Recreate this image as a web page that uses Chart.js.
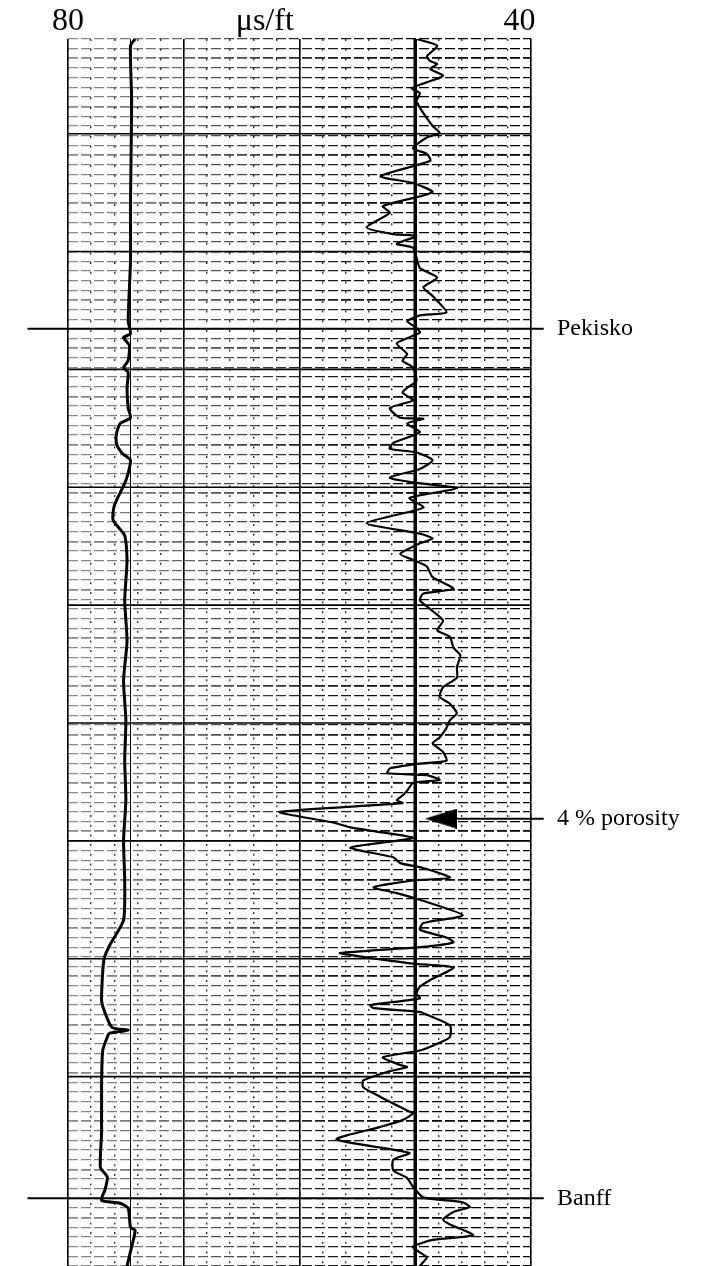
<!DOCTYPE html>
<html>
<head>
<meta charset="utf-8">
<script src="https://cdn.jsdelivr.net/npm/chart.js@4.4.1/dist/chart.umd.min.js"></script>
<style>
  html, body { margin: 0; padding: 0; background: #fff; }
</style>
</head>
<body>
<canvas id="sonicLog" width="726" height="1266"></canvas>
<script>
// Sonic log, depth in chart grid units (0 = top of track), transit time in µs/ft

const sonicDepth = [0, 0.7, 1.8, 2.3, 2.6, 3.1, 3.8, 4.6, 5.1, 5.6,
    6.4, 7.1, 8.2, 9.0, 9.7, 10.2, 11.3, 11.9, 12.6, 14.2,
    14.9, 15.8, 16.2, 17.3, 18.0, 19.5, 20.2, 20.4, 21.2, 21.6,
    22.6, 23.7, 24.7, 25.7, 26.6, 28.3, 28.6, 29.2, 29.9, 30.4,
    31.5, 32.6, 33.3, 34.0, 35.4, 36.1, 36.6, 37.4, 38.2, 39.2,
    39.3, 39.8, 40.7, 41.8, 42.4, 42.8, 43.6, 44.5, 45.4, 45.9,
    46.5, 47.5, 48.5, 50.1, 51.2, 51.7, 52.2, 53.3, 54.0, 54.6,
    55.7, 56.9, 57.4, 58.1, 59.2, 60.2, 61.2, 61.9, 63.0, 63.8,
    65.0, 66.1, 67.1, 68.1, 68.8, 69.8, 70.5, 71.3, 72.3, 72.9,
    73.8, 74.7, 75.0, 75.5, 76.0, 76.2, 76.7, 77.0, 77.8, 78.3,
    78.8, 79.1, 80.0, 80.9, 81.1, 81.6, 82.1, 82.7, 83.7, 84.7,
    85.3, 85.8, 86.8, 87.1, 87.8, 88.4, 89.1, 90.7, 91.5, 92.2,
    93.0, 93.5, 94.0, 94.6, 95.0, 95.7, 96.1, 97.4, 98.1, 98.8,
    99.3, 100.0, 100.3, 100.7, 101.0, 102.1, 103.3, 103.9, 104.7, 105.4,
    106.2, 106.4, 106.9, 107.8, 108.5, 109.5, 110.9, 111.2, 111.9, 112.6,
    113.9, 115.3, 116.0, 117.1, 117.9, 118.8, 119.9, 120.4, 120.9, 121.4,
    122.2, 122.7, 123.8, 124.3, 125.0, 125.6, 126.1, 127.0];

const sonicDt = [49.9, 48.1, 49.0, 48.7, 48.1, 48.7, 47.6, 49.3, 50.3, 49.6,
    49.9, 49.6, 49.0, 48.5, 47.9, 49.0, 50.2, 49.0, 48.7, 53.0,
    50.2, 48.5, 49.3, 52.8, 52.2, 54.2, 51.9, 49.9, 51.6, 50.2,
    49.9, 49.6, 48.1, 49.3, 48.5, 47.3, 49.6, 50.7, 49.9, 49.6,
    51.6, 50.7, 51.1, 50.2, 49.9, 50.7, 51.1, 50.2, 52.2, 51.3,
    49.3, 50.7, 49.6, 51.9, 52.2, 49.9, 48.5, 49.6, 52.2, 50.2,
    46.4, 50.5, 49.3, 54.2, 49.6, 48.5, 49.6, 51.3, 50.0, 49.0,
    48.5, 46.7, 49.3, 49.6, 48.5, 47.6, 48.1, 47.0, 46.7, 46.1,
    46.4, 46.4, 47.6, 47.9, 47.0, 46.4, 47.0, 47.3, 47.9, 48.5,
    47.6, 47.3, 49.6, 52.2, 52.4, 49.0, 47.9, 50.2, 50.7, 51.1,
    51.6, 51.1, 61.7, 58.0, 57.1, 55.6, 53.0, 50.2, 55.6, 51.9,
    51.3, 49.3, 47.0, 50.2, 53.6, 51.6, 49.6, 45.9, 49.3, 49.6,
    47.3, 46.7, 49.6, 56.5, 54.5, 50.2, 46.7, 48.7, 49.6, 49.9,
    49.6, 53.9, 53.6, 49.6, 49.0, 47.0, 47.0, 47.9, 49.6, 52.8,
    51.3, 50.7, 52.4, 54.5, 54.5, 53.0, 50.7, 50.2, 51.1, 53.0,
    56.8, 50.5, 51.9, 51.9, 50.7, 50.2, 49.3, 45.9, 45.3, 46.7,
    47.6, 47.0, 45.0, 48.5, 50.2, 49.6, 49.0, 49.6];

// second trace on the left of the track
const leftDepth = [0, 0.7, 6.4, 16.8, 23.0, 29.2, 30.5, 30.9, 31.7, 33.3,
    34.0, 34.5, 36.1, 38.2, 39.2, 39.8, 40.8, 41.9, 42.9, 43.6,
    45.7, 48.3, 49.8, 51.4, 54.0, 58.1, 62.3, 66.4, 70.5, 74.7,
    78.8, 82.9, 87.1, 91.2, 93.8, 95.3, 99.5, 100.8, 102.3, 102.6,
    102.9, 103.3, 104.7, 108.1, 113.2, 116.8, 117.8, 119.1, 120.2, 120.5,
    121.0, 123.0, 123.3, 125.0, 127.0];

const leftDt = [74.2, 74.6, 74.5, 74.6, 74.6, 74.8, 74.6, 75.2, 74.7, 74.8,
    75.2, 74.8, 74.9, 74.8, 74.6, 75.5, 75.8, 75.8, 75.3, 74.6,
    75.0, 76.0, 76.1, 75.1, 74.9, 75.1, 74.9, 75.2, 75.0, 75.1,
    75.0, 75.2, 75.1, 75.2, 76.4, 76.9, 77.1, 76.8, 76.2, 74.8,
    76.4, 76.6, 77.0, 77.1, 77.1, 77.2, 76.6, 76.8, 77.1, 75.5,
    74.8, 74.6, 74.2, 74.5, 74.9];

const baselineDt = 74.6;
const cutoffDt = 50;            // 4 % porosity
const markerDepths = [9.8, 22.0, 34.2, 46.4, 58.6, 70.8, 83.0, 95.2, 107.4];
const topNames = ['Pekisko', 'Banff'];
const topDepths = [30, 120];
const arrowDepth = 80.7;
const arrowLabel = '4 % porosity';
const axisLabels = ['80', 'μs/ft', '40'];
const axisLabelAt = [80, 63, 41];

const depthMin = 0;
const depthMax = 127;

function toPoints(depths, values) {
    return depths.map((d, i) => ({ x: values[i], y: d }));
}

function hLine(depths, from, to) {
    const pts = [];
    depths.forEach(d => {
        pts.push({ x: from, y: d }, { x: to, y: d }, { x: NaN, y: NaN });
    });
    return pts;
}

// arrow head used as point style
const arrowHead = document.createElement('canvas');
arrowHead.width = 32;
arrowHead.height = 20;
(function () {
    const c = arrowHead.getContext('2d');
    c.fillStyle = '#000';
    c.beginPath();
    c.moveTo(0, 10);
    c.lineTo(32, 0);
    c.lineTo(32, 20);
    c.closePath();
    c.fill();
})();

let gridGradient = null;
function hGridColor(ctx) {
    const area = ctx.chart.chartArea;
    if (!area) return '#000';
    if (!gridGradient) {
        gridGradient = ctx.chart.ctx.createLinearGradient(area.left, 0, area.right, 0);
        gridGradient.addColorStop(0, 'rgba(0,0,0,0.45)');
        gridGradient.addColorStop(0.25, 'rgba(0,0,0,0.6)');
        gridGradient.addColorStop(0.5, 'rgba(0,0,0,0.85)');
        gridGradient.addColorStop(0.75, '#000');
        gridGradient.addColorStop(1, '#000');
    }
    return gridGradient;
}

const sideLabels = {
    id: 'sideLabels',
    afterDatasetsDraw(chart) {
        const { ctx, chartArea, scales } = chart;
        ctx.save();
        ctx.font = '24px "Liberation Serif", "Times New Roman", serif';
        ctx.fillStyle = '#000';
        ctx.textBaseline = 'middle';
        topNames.forEach((name, i) => {
            ctx.fillText(name, chartArea.right + 26, scales.y.getPixelForValue(topDepths[i]));
        });
        ctx.fillText(arrowLabel, chartArea.right + 26, scales.y.getPixelForValue(arrowDepth));
        ctx.restore();
    }
};

const axisBase = { type: 'linear', position: 'top', min: 40, max: 80, reverse: true };

new Chart(document.getElementById('sonicLog'), {
    type: 'scatter',
    data: {
        datasets: [
            {
                label: 'Depth markers',
                data: hLine(markerDepths, 80, 40),
                showLine: true,
                borderColor: '#000',
                borderWidth: 1.6,
                pointRadius: 0,
                spanGaps: false
            },
            {
                label: 'Formation tops',
                data: hLine(topDepths, 83.5, 38.9),
                showLine: true,
                borderColor: '#000',
                borderWidth: 2,
                pointRadius: 0,
                spanGaps: false,
                clip: false
            },
            {
                label: '4 % porosity',
                data: [{ x: cutoffDt, y: depthMin }, { x: cutoffDt, y: depthMax }],
                showLine: true,
                borderColor: '#000',
                borderWidth: 3.5,
                pointRadius: 0
            },
            {
                label: 'Baseline',
                data: [{ x: baselineDt, y: depthMin }, { x: baselineDt, y: depthMax }],
                showLine: true,
                borderColor: '#000',
                borderWidth: 1,
                pointRadius: 0
            },
            {
                label: 'Left trace',
                data: toPoints(leftDepth, leftDt),
                showLine: true,
                borderColor: '#000',
                borderWidth: 3,
                pointRadius: 0,
                tension: 0.2
            },
            {
                label: 'Sonic',
                data: toPoints(sonicDepth, sonicDt),
                showLine: true,
                borderColor: '#000',
                borderWidth: 2.2,
                pointRadius: 0,
                tension: 0.2
            },
            {
                label: 'Arrow',
                data: [{ x: 47.8, y: arrowDepth }, { x: 38.9, y: arrowDepth }],
                showLine: true,
                borderColor: '#000',
                borderWidth: 2,
                pointStyle: arrowHead,
                pointRadius: [10, 0],
                clip: false
            }
        ]
    },
    options: {
        responsive: false,
        animation: false,
        events: [],
        layout: { autoPadding: false, padding: { left: 68, right: 195, top: 4.6, bottom: 0 } },
        plugins: {
            legend: { display: false },
            tooltip: { enabled: false }
        },
        scales: {
            x: {
                ...axisBase,
                ticks: { display: false, stepSize: 10 },
                grid: { color: '#000', lineWidth: 1.6, drawTicks: false },
                border: { display: false }
            },
            xMinor: {
                ...axisBase,
                ticks: { display: false, stepSize: 2 },
                grid: { color: 'rgba(0,0,0,0.8)', lineWidth: 1.4, drawTicks: false },
                border: { display: false, dash: [2, 7.7] }
            },
            xLab: {
                ...axisBase,
                afterBuildTicks: axis => {
                    axis.ticks = axisLabelAt.map(v => ({ value: v }));
                },
                ticks: {
                    callback: v => axisLabels[axisLabelAt.indexOf(v)],
                    font: { family: '"Liberation Serif", serif', size: 32 },
                    color: '#000',
                    padding: -2,
                    maxRotation: 0,
                    autoSkip: false
                },
                grid: { display: false, drawTicks: false },
                border: { display: false }
            },
            y: {
                type: 'linear',
                min: depthMin,
                max: depthMax,
                reverse: true,
                ticks: { display: false, stepSize: 1 },
                grid: {
                    color: hGridColor,
                    lineWidth: c => (c.index % 5 === 0 ? 1.7 : 1.3),
                    drawTicks: false
                },
                border: { display: false, dash: [10, 3] }
            }
        }
    },
    plugins: [sideLabels]
});
</script>
</body>
</html>
